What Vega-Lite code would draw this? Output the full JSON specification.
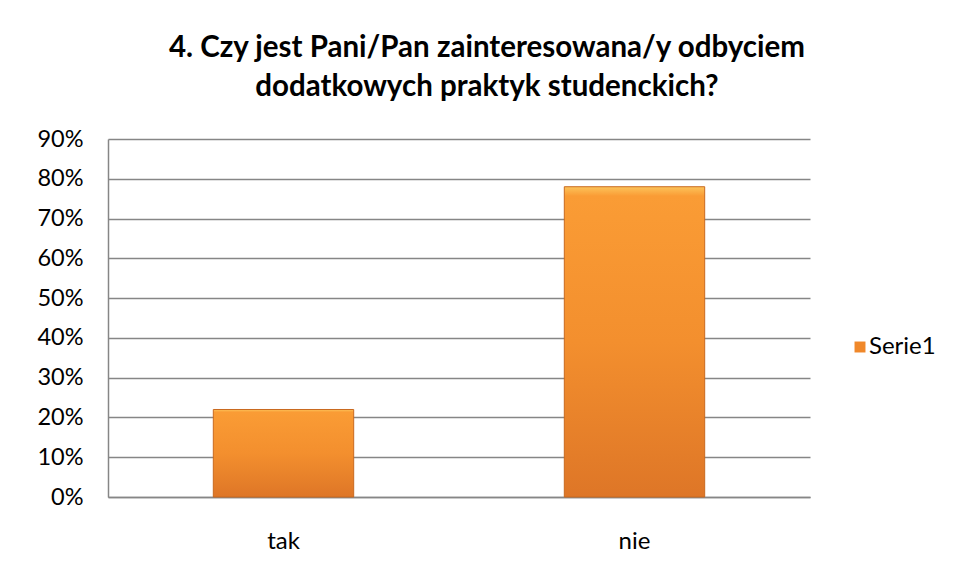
{
  "$schema": "https://vega.github.io/schema/vega-lite/v6.json",
  "autosize": {"type": "none"},
  "width": 702,
  "height": 358,
  "padding": {"left": 108, "top": 139, "right": 149, "bottom": 82},
  "background": "white",
  "title": {
    "text": ["4. Czy jest Pani/Pan zainteresowana/y odbyciem", "dodatkowych praktyk studenckich?"],
    "font": "Lato",
    "fontSize": 29.5,
    "fontWeight": "bold",
    "color": "#000000",
    "anchor": "middle",
    "lineHeight": 39,
    "dx": 28,
    "offset": 25
  },
  "data": {
    "values": [
      {"odpowiedz": "tak", "udzial": 0.22, "seria": "Serie1"},
      {"odpowiedz": "nie", "udzial": 0.78, "seria": "Serie1"}
    ]
  },
  "encoding": {
    "x": {
      "field": "odpowiedz",
      "type": "nominal",
      "sort": ["tak", "nie"],
      "scale": {"paddingInner": 0.6, "paddingOuter": 0.3},
      "axis": {
        "title": null,
        "labelAngle": 0,
        "ticks": false,
        "labelPadding": 32,
        "labelFont": "Lato",
        "labelFontSize": 24,
        "labelColor": "#000000",
        "domainColor": "#868686",
        "domainWidth": 1.5,
        "grid": false
      }
    },
    "y": {
      "field": "udzial",
      "type": "quantitative",
      "scale": {"domain": [0, 0.9]},
      "axis": {
        "title": null,
        "format": ".0%",
        "values": [0, 0.1, 0.2, 0.3, 0.4, 0.5, 0.6, 0.7, 0.8, 0.9],
        "ticks": false,
        "labelPadding": 25,
        "labelFont": "Lato",
        "labelFontSize": 23.5,
        "labelColor": "#000000",
        "domainColor": "#868686",
        "domainWidth": 1.5,
        "gridColor": "#868686",
        "gridWidth": 1.5
      }
    }
  },
  "layer": [
    {
      "mark": {"type": "bar", "opacity": 0},
      "encoding": {
        "fill": {
          "field": "seria",
          "type": "nominal",
          "scale": {"range": ["#f0882a"]},
          "legend": {
            "title": null,
            "orient": "none",
            "legendX": 740,
            "legendY": 196,
            "symbolType": "square",
            "symbolSize": 120,
            "symbolStrokeWidth": 0,
            "labelFont": "Lato",
            "labelFontSize": 24,
            "labelColor": "#000000",
            "labelOffset": -3,
            "encode": {
              "symbols": {"update": {"opacity": {"value": 1}, "fillOpacity": {"value": 1}}}
            }
          }
        }
      }
    },
    {
      "mark": {
        "type": "bar",
        "stroke": "#c9691f",
        "strokeWidth": 1,
        "color": {
          "gradient": "linear",
          "x1": 0, "y1": 0, "x2": 0, "y2": 1,
          "stops": [
            {"offset": 0, "color": "#fcc35a"},
            {"offset": 0.03, "color": "#fa9c35"},
            {"offset": 0.5, "color": "#f38f2e"},
            {"offset": 1, "color": "#de7627"}
          ]
        }
      }
    }
  ],
  "config": {
    "view": {"stroke": null}
  }
}
